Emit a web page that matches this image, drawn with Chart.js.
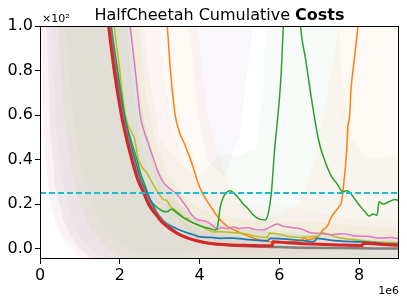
<!DOCTYPE html>
<html>
<head>
<meta charset="utf-8">
<script src="https://cdn.jsdelivr.net/npm/chart.js@4/dist/chart.umd.min.js"></script>
<style>
  html, body { margin: 0; padding: 0; background: #fff; }
  canvas { display: block; }
</style>
</head>
<body>
<canvas id="grafico" width="407" height="304"></canvas>
<script>
// ticks
const xTicks = [0, 2, 4, 6, 8];
const yTicks = [0.0, 0.2, 0.4, 0.6, 0.8, 1.0];
const costLimit = 0.25;

// curvas: [pasos (1e6), coste acumulado (x10^2)]
const red = [[1.6,1.2],[1.72,1.0],[1.86,0.8],[2.04,0.6],[2.16,0.5],[2.3,0.4],[2.45,0.31],[2.6,0.25],[2.75,0.19],[2.92,0.15],[3.05,0.12],[3.18,0.1],[3.4,0.072],[3.62,0.052],[3.9,0.036],[4.2,0.025],[4.5,0.019],[4.8,0.016],[5.2,0.014],[5.5,0.013],[5.82,0.012],[5.84,0.03],[6.2,0.026],[6.6,0.022],[7.0,0.019],[7.5,0.016],[8.08,0.014],[8.1,0.024],[8.5,0.019],[9.0,0.015]];
const gray = [[1.62,1.2],[1.75,1.0],[1.9,0.8],[2.07,0.6],[2.2,0.5],[2.34,0.4],[2.49,0.31],[2.64,0.25],[2.8,0.19],[2.97,0.15],[3.1,0.12],[3.23,0.1],[3.45,0.07],[3.68,0.05],[3.95,0.034],[4.3,0.022],[4.7,0.015],[5.2,0.01],[5.8,0.007],[6.5,0.004],[7.5,0.002],[9.0,0.0]];
const blue = [[1.65,1.2],[1.77,1.0],[1.92,0.8],[2.1,0.6],[2.23,0.5],[2.38,0.4],[2.53,0.31],[2.68,0.25],[2.82,0.2],[2.97,0.15],[3.12,0.12],[3.3,0.1],[3.55,0.08],[3.85,0.062],[4.02,0.052],[4.3,0.05],[4.5,0.046],[4.85,0.047],[5.1,0.042],[5.4,0.038],[5.7,0.035],[5.78,0.046],[6.0,0.045],[6.3,0.04],[6.6,0.036],[6.86,0.031],[6.95,0.046],[7.2,0.04],[7.5,0.034],[7.8,0.031],[8.1,0.03],[8.4,0.026],[8.7,0.021],[9.0,0.02]];
const olive = [[1.75,1.2],[1.86,1.0],[2.0,0.8],[2.14,0.6],[2.3,0.52],[2.36,0.5],[2.47,0.4],[2.58,0.36],[2.68,0.34],[2.8,0.3],[2.9,0.27],[2.97,0.25],[3.1,0.22],[3.18,0.215],[3.27,0.19],[3.38,0.175],[3.45,0.165],[3.6,0.14],[3.7,0.135],[3.8,0.12],[4.0,0.105],[4.2,0.085],[4.35,0.074],[4.52,0.076],[4.75,0.072],[5.03,0.07],[5.3,0.06],[5.53,0.052],[5.7,0.05],[5.75,0.07],[5.9,0.068],[6.1,0.06],[6.28,0.053],[6.53,0.05],[6.9,0.055],[7.0,0.058],[7.05,0.072],[7.2,0.065],[7.54,0.047],[7.9,0.04],[8.37,0.03],[8.7,0.028],[9.0,0.026]];
const pink = [[2.15,1.2],[2.26,1.0],[2.39,0.8],[2.51,0.6],[2.62,0.52],[2.68,0.49],[2.85,0.4],[2.97,0.34],[3.1,0.295],[3.25,0.27],[3.39,0.25],[3.5,0.23],[3.6,0.205],[3.7,0.18],[3.81,0.15],[3.97,0.128],[4.1,0.125],[4.2,0.12],[4.35,0.1],[4.45,0.086],[4.55,0.095],[4.7,0.09],[4.85,0.097],[5.0,0.09],[5.2,0.094],[5.4,0.085],[5.6,0.083],[5.75,0.095],[5.95,0.11],[6.1,0.1],[6.25,0.096],[6.36,0.092],[6.55,0.088],[6.78,0.071],[7.03,0.068],[7.3,0.062],[7.6,0.066],[7.8,0.06],[7.96,0.056],[8.2,0.055],[8.54,0.047],[8.8,0.05],[9.0,0.043]];
const green = [[1.68,1.2],[1.79,1.0],[1.95,0.8],[2.12,0.6],[2.26,0.5],[2.43,0.4],[2.52,0.34],[2.62,0.29],[2.7,0.25],[2.76,0.22],[2.9,0.19],[3.06,0.17],[3.18,0.165],[3.3,0.178],[3.4,0.165],[3.55,0.145],[3.7,0.128],[3.9,0.11],[4.1,0.097],[4.25,0.09],[4.4,0.083],[4.45,0.097],[4.52,0.187],[4.6,0.232],[4.7,0.255],[4.77,0.26],[4.85,0.25],[4.95,0.233],[5.1,0.2],[5.2,0.182],[5.35,0.15],[5.45,0.137],[5.55,0.13],[5.65,0.128],[5.73,0.165],[5.8,0.25],[5.88,0.44],[6.0,0.67],[6.05,0.8],[6.1,1.0],[6.2,1.25],[6.45,1.25],[6.53,1.0],[6.66,0.85],[6.8,0.68],[6.98,0.49],[7.09,0.42],[7.29,0.33],[7.45,0.29],[7.6,0.255],[7.68,0.26],[7.75,0.255],[7.9,0.22],[8.05,0.185],[8.15,0.165],[8.25,0.146],[8.35,0.155],[8.45,0.15],[8.5,0.21],[8.6,0.2],[8.75,0.21],[8.9,0.22],[9.0,0.215]];
const orange = [[3.05,1.25],[3.19,1.0],[3.27,0.8],[3.39,0.6],[3.5,0.52],[3.6,0.48],[3.69,0.44],[3.85,0.36],[3.95,0.3],[4.07,0.25],[4.2,0.21],[4.35,0.17],[4.52,0.128],[4.7,0.1],[4.85,0.085],[5.03,0.07],[5.2,0.058],[5.35,0.047],[5.53,0.036],[5.7,0.032],[5.85,0.03],[6.0,0.03],[6.2,0.028],[6.4,0.032],[6.55,0.036],[6.62,0.048],[6.7,0.04],[6.86,0.045],[7.0,0.06],[7.1,0.085],[7.2,0.1],[7.3,0.14],[7.4,0.165],[7.5,0.19],[7.56,0.21],[7.62,0.3],[7.68,0.42],[7.72,0.55],[7.76,0.59],[7.8,0.72],[7.88,0.85],[7.97,1.0],[8.05,1.2]];

// bandas: [pasos, inferior, superior]
const redBand = [[0.0,1.5,1.5],[0.03,1.0,1.5],[0.08,0.6,1.5],[0.15,0.38,1.5],[0.25,0.22,1.5],[0.4,0.1,1.5],[0.6,0.03,1.5],[0.9,-0.03,1.5],[1.5,-0.08,1.5],[2.0,-0.08,1.5],[2.15,-0.08,1.05],[2.3,-0.08,0.75],[2.5,-0.08,0.5],[2.7,-0.08,0.36],[3.0,-0.08,0.24],[3.5,-0.08,0.13],[4.0,-0.08,0.08],[5.0,-0.08,0.05],[6.0,-0.08,0.05],[7.0,-0.08,0.045],[8.0,-0.08,0.04],[9.0,-0.08,0.035]];
const grayBand = [[0.15,1.5,1.5],[0.17,1.0,1.5],[0.25,0.55,1.5],[0.38,0.28,1.5],[0.58,0.13,1.5],[0.8,0.05,1.5],[1.0,0.0,1.5],[1.5,-0.08,1.5],[2.1,-0.08,1.5],[2.25,-0.08,1.1],[2.4,-0.08,0.8],[2.6,-0.08,0.58],[2.8,-0.08,0.44],[3.0,-0.08,0.34],[3.5,-0.08,0.2],[4.0,-0.08,0.13],[5.0,-0.08,0.09],[6.0,-0.08,0.07],[7.0,-0.08,0.06],[8.0,-0.08,0.05],[9.0,-0.08,0.05]];
const blueBand = [[0.25,1.5,1.5],[0.28,1.0,1.5],[0.4,0.55,1.5],[0.55,0.3,1.5],[0.75,0.15,1.5],[1.0,0.05,1.5],[1.4,-0.02,1.5],[2.0,-0.08,1.5],[2.15,-0.08,1.5],[2.3,-0.08,1.0],[2.5,-0.08,0.65],[2.7,-0.08,0.45],[3.0,-0.08,0.3],[3.5,-0.08,0.18],[4.0,-0.08,0.12],[5.0,-0.08,0.09],[6.0,-0.08,0.08],[7.0,-0.08,0.075],[8.0,-0.08,0.065],[9.0,-0.08,0.06]];
const oliveBand = [[0.4,1.5,1.5],[0.45,1.0,1.5],[0.6,0.6,1.5],[0.8,0.35,1.5],[1.0,0.2,1.5],[1.3,0.08,1.5],[1.7,0.0,1.5],[2.2,-0.05,1.5],[2.3,-0.05,1.5],[2.45,-0.05,1.05],[2.65,-0.05,0.7],[2.9,-0.05,0.48],[3.2,-0.05,0.34],[3.6,-0.05,0.24],[4.0,-0.05,0.18],[5.0,-0.05,0.13],[6.0,-0.05,0.12],[7.0,-0.05,0.12],[8.0,-0.05,0.1],[9.0,-0.05,0.09]];
const greenBand = [[0.6,1.5,1.5],[0.65,1.0,1.5],[0.8,0.65,1.5],[1.0,0.4,1.5],[1.3,0.2,1.5],[1.7,0.07,1.5],[2.2,0.0,1.5],[2.4,-0.02,1.5],[2.5,-0.02,1.2],[2.7,-0.02,0.8],[3.0,-0.02,0.5],[3.5,-0.02,0.38],[4.0,0.0,0.33],[4.5,0.02,0.42],[5.0,0.02,0.42],[5.4,0.02,0.45],[5.6,0.03,0.7],[5.72,0.04,1.5],[6.5,0.05,1.5],[7.35,0.06,1.5],[7.55,0.06,0.8],[7.8,0.05,0.5],[8.2,0.05,0.4],[9.0,0.05,0.42]];
const pinkBand = [[0.0,1.5,1.5],[0.01,1.0,1.5],[0.05,0.6,1.5],[0.12,0.35,1.5],[0.25,0.2,1.5],[0.45,0.1,1.5],[0.7,0.03,1.5],[1.0,-0.03,1.5],[1.5,-0.06,1.5],[2.8,-0.06,1.5],[3.0,-0.06,0.9],[3.3,-0.06,0.55],[3.7,-0.06,0.35],[4.0,-0.06,0.27],[5.0,-0.06,0.2],[6.0,-0.06,0.2],[7.0,-0.06,0.16],[8.0,-0.06,0.13],[9.0,-0.06,0.12]];
const orangeBand = [[1.8,1.5,1.5],[2.2,1.2,1.5],[2.3,1.0,1.5],[2.5,0.62,1.5],[2.8,0.36,1.5],[3.2,0.18,1.5],[3.8,0.06,1.5],[3.85,0.05,1.2],[3.95,0.04,1.0],[4.2,0.02,0.6],[4.6,0.0,0.35],[5.0,-0.02,0.22],[5.5,-0.02,0.15],[6.0,-0.02,0.15],[6.5,-0.02,0.2],[6.9,-0.01,0.4],[7.2,0.0,0.7],[7.45,0.0,0.95],[7.62,0.01,1.5],[9.0,0.02,1.5]];
const purpleBand = [[3.6,1.5,1.5],[3.75,1.0,1.5],[3.95,0.6,1.5],[4.2,0.4,1.5],[4.6,0.32,1.5],[5.0,0.5,1.5],[5.2,0.8,1.5],[5.35,1.0,1.5],[5.5,1.5,1.5]];

const datasets = [];

function addBand(band, rgb, alpha) {
  const lo = datasets.length;
  datasets.push({
    data: band.map(p => ({ x: p[0], y: p[1] })),
    borderColor: 'rgba(0,0,0,0)', borderWidth: 0, pointRadius: 0, fill: false, order: 10
  });
  datasets.push({
    data: band.map(p => ({ x: p[0], y: p[2] })),
    borderColor: 'rgba(0,0,0,0)', borderWidth: 0, pointRadius: 0,
    fill: lo, backgroundColor: `rgba(${rgb},${alpha})`, order: 10
  });
}

function addLine(serie, color, width, order) {
  datasets.push({
    data: serie.map(p => ({ x: p[0], y: p[1] })),
    borderColor: color, borderWidth: width, pointRadius: 0, fill: false,
    cubicInterpolationMode: 'monotone', order: order
  });
}

addBand(grayBand, '127,127,127', 0.09);
addBand(redBand, '214,39,40', 0.04);
addBand(blueBand, '31,119,180', 0.03);
addBand(oliveBand, '188,189,34', 0.07);
addBand(greenBand, '44,160,44', 0.04);
addBand(pinkBand, '227,119,194', 0.035);
addBand(orangeBand, '255,127,14', 0.045);
addBand(purpleBand, '148,103,189', 0.05);

addLine(orange, '#ff7f0e', 1.5, 5);
addLine(green, '#2ca02c', 1.5, 4);
addLine(pink, '#e377c2', 1.5, 4);
addLine(olive, '#bcbd22', 1.5, 4);
addLine(blue, '#1f77b4', 1.8, 3);
addLine(gray, '#7f7f7f', 2.5, 2);
addLine(red, '#d62728', 3, 1);

datasets.push({
  data: [{ x: 0, y: costLimit }, { x: 9, y: costLimit }],
  borderColor: '#17becf', borderWidth: 2, borderDash: [6, 3],
  pointRadius: 0, fill: false, order: 0
});

// titulo, marco y textos de escala
const marco = {
  id: 'marco',
  afterDraw(chart) {
    const { ctx, chartArea: a } = chart;
    ctx.save();
    ctx.strokeStyle = '#000';
    ctx.lineWidth = 1;
    ctx.strokeRect(a.left + 0.5, a.top + 0.5, a.right - a.left - 1, a.bottom - a.top - 1);

    const t1 = 'HalfCheetah Cumulative ';
    const t2 = 'Costs';
    ctx.fillStyle = '#000';
    ctx.textBaseline = 'alphabetic';
    ctx.font = '16px "DejaVu Sans"';
    const w1 = ctx.measureText(t1).width;
    ctx.font = 'bold 16px "DejaVu Sans"';
    const w2 = ctx.measureText(t2).width;
    const x0 = (a.left + a.right) / 2 - (w1 + w2) / 2;
    ctx.textAlign = 'left';
    ctx.font = '16px "DejaVu Sans"';
    ctx.fillText(t1, x0, 20);
    ctx.font = 'bold 16px "DejaVu Sans"';
    ctx.fillText(t2, x0 + w1, 20);

    ctx.font = '11px "DejaVu Sans"';
    ctx.fillText('\u00d710\u00b2', a.left + 2, 22);
    ctx.textAlign = 'right';
    ctx.fillText('1e6', a.right, 294);
    ctx.restore();
  }
};

new Chart(document.getElementById('grafico').getContext('2d'), {
  type: 'line',
  data: { datasets: datasets },
  options: {
    responsive: false,
    devicePixelRatio: 1,
    animation: false,
    layout: { padding: { top: 26, right: 8, left: 0, bottom: 0 } },
    plugins: {
      legend: { display: false },
      tooltip: { enabled: false },
      title: { display: false }
    },
    scales: {
      x: {
        type: 'linear', min: 0, max: 9,
        afterBuildTicks: (axis) => { axis.ticks = xTicks.map(v => ({ value: v })); },
        afterFit: (axis) => { axis.height = 45; },
        ticks: { color: '#000', font: { family: 'DejaVu Sans', size: 16 }, padding: 2, maxRotation: 0,
                 callback: (v) => String(v) },
        grid: { drawOnChartArea: false, drawTicks: true, tickLength: 5, color: '#000', lineWidth: 1 },
        border: { display: false }
      },
      y: {
        type: 'linear', min: -0.047, max: 1.0,
        afterBuildTicks: (axis) => { axis.ticks = yTicks.map(v => ({ value: v })); },
        afterFit: (axis) => { axis.width = 40; },
        ticks: { color: '#000', font: { family: 'DejaVu Sans', size: 16 }, padding: 2,
                 callback: (v) => Number(v).toFixed(1) },
        grid: { drawOnChartArea: false, drawTicks: true, tickLength: 5, color: '#000', lineWidth: 1 },
        border: { display: false }
      }
    }
  },
  plugins: [marco]
});
</script>
</body>
</html>
